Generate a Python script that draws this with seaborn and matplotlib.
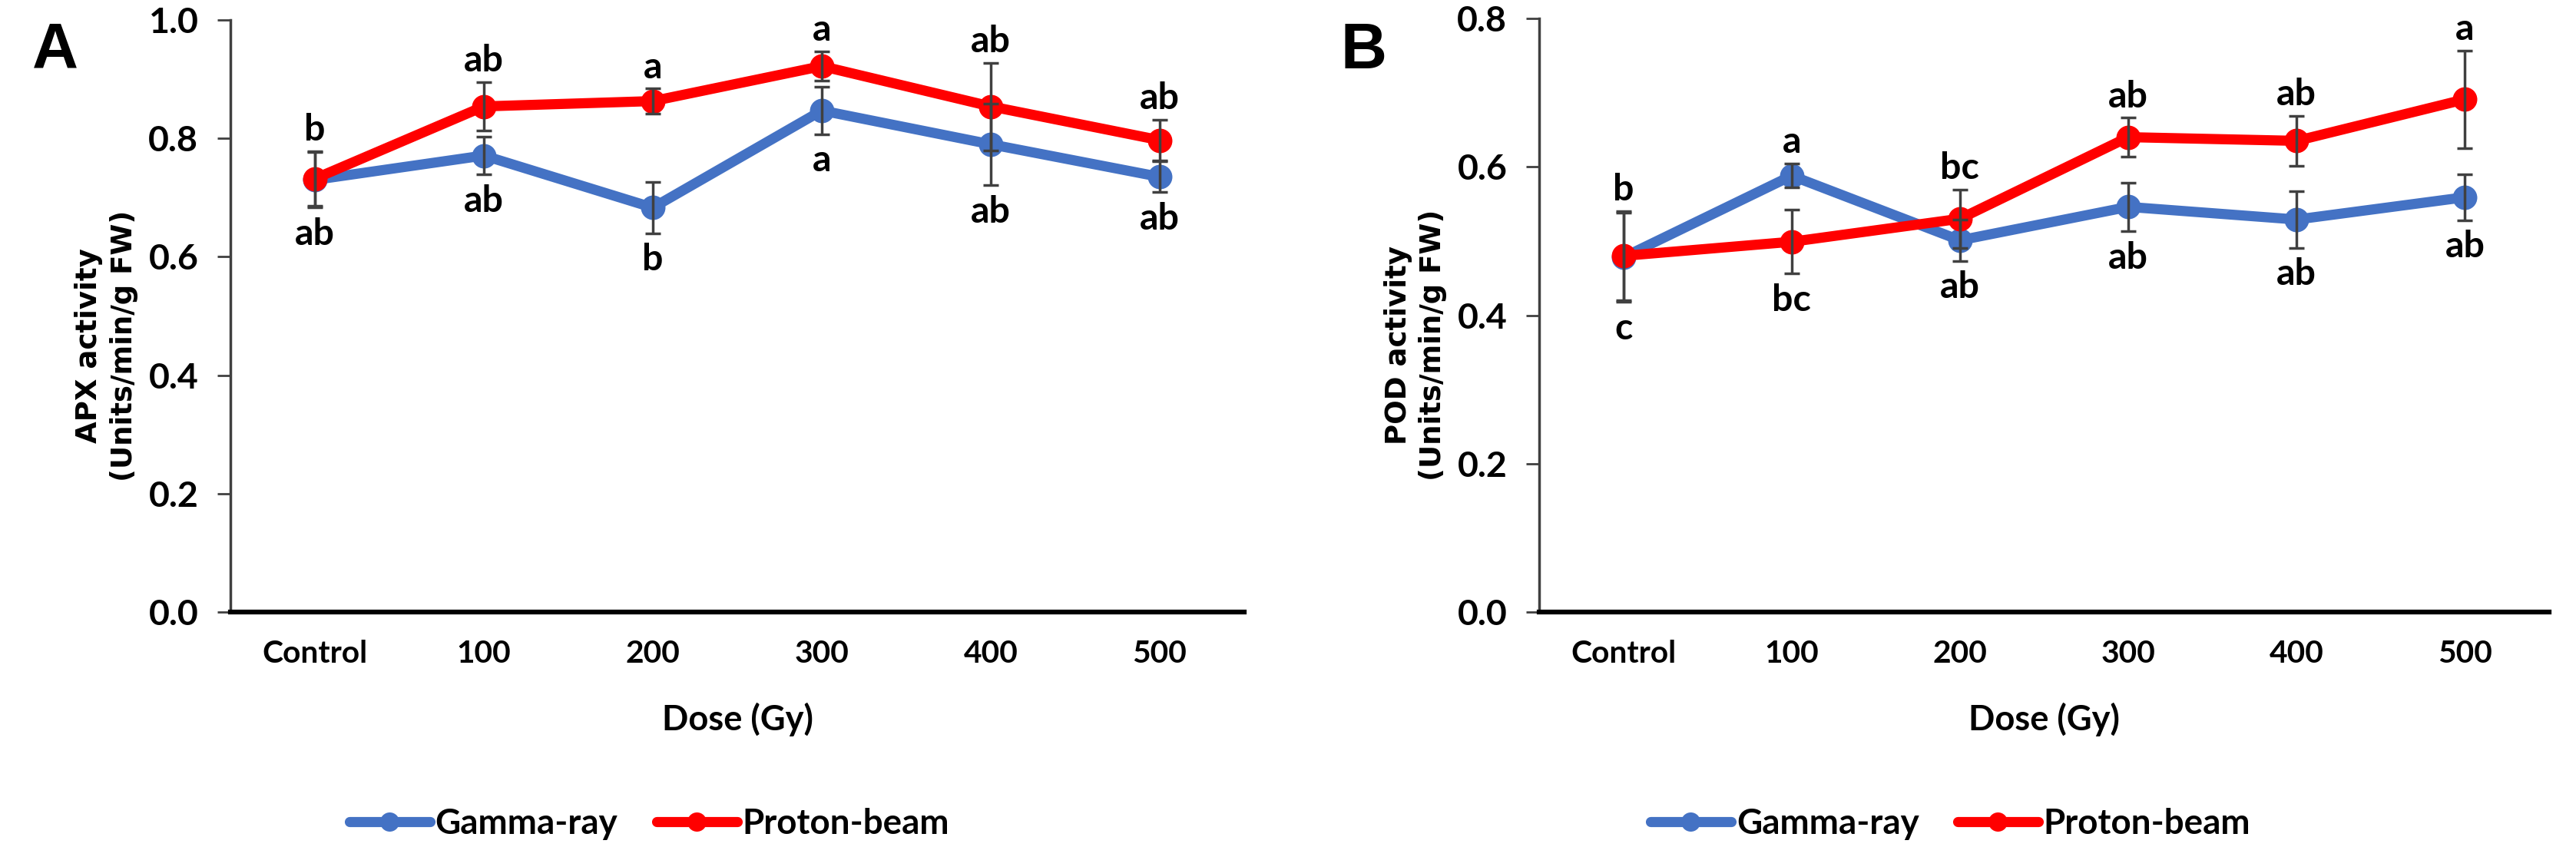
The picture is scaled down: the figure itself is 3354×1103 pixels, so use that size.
import numpy as np
import pandas as pd
import matplotlib
matplotlib.use("Agg")
import matplotlib.pyplot as plt
import seaborn as sns
from matplotlib.lines import Line2D

# ---------------- data ----------------
doses = ["Control", "100", "200", "300", "400", "500"]
series_names = ["Gamma-ray", "Proton-beam"]

apx_gamma = [0.730, 0.771, 0.683, 0.847, 0.790, 0.735]
apx_gamma_err = [0.047, 0.032, 0.043, 0.040, 0.069, 0.026]
apx_proton = [0.732, 0.854, 0.863, 0.922, 0.854, 0.797]
apx_proton_err = [0.046, 0.041, 0.021, 0.025, 0.074, 0.034]
apx_gamma_letters = ["ab", "ab", "b", "a", "ab", "ab"]
apx_proton_letters = ["b", "ab", "a", "a", "ab", "ab"]

pod_gamma = [0.478, 0.588, 0.501, 0.546, 0.529, 0.559]
pod_gamma_err = [0.060, 0.016, 0.028, 0.033, 0.038, 0.031]
pod_proton = [0.480, 0.499, 0.530, 0.640, 0.635, 0.691]
pod_proton_err = [0.060, 0.043, 0.039, 0.026, 0.034, 0.066]
pod_gamma_letters = ["c", "a", "ab", "ab", "ab", "ab"]
pod_proton_letters = ["b", "bc", "bc", "ab", "ab", "a"]

colors = {"Gamma-ray": "#4472C4", "Proton-beam": "#FF0000"}

sns.set_theme(style="white")
MAIN = ["Lato", "DejaVu Sans"]
LABEL = ["DejaVu Sans"]
plt.rcParams["font.family"] = MAIN
plt.rcParams["font.weight"] = "bold"
for k in ["text.color", "axes.labelcolor", "xtick.color", "ytick.color"]:
    plt.rcParams[k] = "black"

fig = plt.figure(figsize=(33.55, 11.03), dpi=100)
renderer = fig.canvas.get_renderer()


def fit_size(text, family, target_px):
    t = fig.text(0, 0, text, fontsize=100, fontweight="bold", family=family)
    w = t.get_window_extent(renderer).width
    t.remove()
    return 100 * target_px / w


FS_XTICK = fit_size("Control", MAIN, 137)
FS_YTICK = fit_size("0.6", MAIN, 65)
FS_LEG = fit_size("Gamma-ray", MAIN, 238)
FS_LET = fit_size("ab", MAIN, 52)
FS_XLAB = fit_size("Dose (Gy)", MAIN, 197)
FS_YLAB = fit_size("APX activity", LABEL, 254)
FS_PANEL = fit_size("A", ["Liberation Sans", "DejaVu Sans"], 60)

axA = fig.add_axes([300 / 3355, 306 / 1103, 1320 / 3355, 771 / 1103])
axB = fig.add_axes([2004 / 3355, 306 / 1103, 1315 / 3355, 773 / 1103])


def draw_panel(ax, g, ge, p, pe, gl, pl, ymax, ylabel, panel_letter, fig_x):
    x = np.arange(len(doses))
    df = pd.DataFrame({
        "pos": np.concatenate([x, x]),
        "value": np.concatenate([g, p]),
        "series": [series_names[0]] * len(doses) + [series_names[1]] * len(doses),
    })
    sns.lineplot(data=df, x="pos", y="value", hue="series", hue_order=series_names,
                 palette=colors, style="series", markers={s: "o" for s in series_names},
                 dashes=False, linewidth=9.5, markersize=23, markeredgewidth=0,
                 errorbar=None, legend=False, ax=ax, zorder=3)
    for vals, errs in [(g, ge), (p, pe)]:
        ax.errorbar(x, vals, yerr=errs, fmt="none", ecolor="#404040",
                    elinewidth=2.5, capsize=7, capthick=2.5, zorder=5)
    # significance letters
    for i in range(len(doses)):
        p_up = p[i] >= g[i]
        for val, err, letter, up in [(p[i], pe[i], pl[i], p_up), (g[i], ge[i], gl[i], not p_up)]:
            if up:
                ax.annotate(letter, (x[i], val + err), xytext=(0, 10), textcoords="offset points",
                            ha="center", va="baseline", fontsize=FS_LET, fontweight="bold",
                            family=MAIN, color="black", zorder=6)
            else:
                ax.annotate(letter, (x[i], val - err), xytext=(0, -9), textcoords="offset points",
                            ha="center", va="top", fontsize=FS_LET, fontweight="bold",
                            family=MAIN, color="black", zorder=6)

    ax.set_xlim(-0.5, len(doses) - 0.5)
    ax.set_ylim(0, ymax)
    ax.set_xticks(x)
    ax.set_xticklabels(doses)
    ticks = np.arange(0, ymax + 0.001, 0.2)
    ax.set_yticks(ticks)
    ax.set_yticklabels([f"{t:.1f}" for t in ticks])
    ax.tick_params(axis="x", length=0, labelsize=FS_XTICK, pad=26)
    ax.tick_params(axis="y", left=True, length=12, width=2, color="#404040",
                   labelsize=FS_YTICK, pad=18, direction="out")
    for lab in ax.get_xticklabels() + ax.get_yticklabels():
        lab.set_fontweight("bold")
    ax.set_xlabel("Dose (Gy)", fontsize=FS_XLAB, fontweight="bold", labelpad=32)
    ax.set_ylabel(ylabel, fontsize=FS_YLAB, fontweight="bold", family=LABEL,
                  linespacing=1.3)
    ax.yaxis.set_label_coords(-0.091, 0.45)
    for side in ["top", "right"]:
        ax.spines[side].set_visible(False)
    ax.spines["left"].set_color("#404040")
    ax.spines["left"].set_linewidth(2.5)
    ax.spines["bottom"].set_color("black")
    ax.spines["bottom"].set_linewidth(4.5)
    ax.grid(False)

    handles = [Line2D([0], [0], color=colors[s], lw=9.5, marker="o", markersize=18,
                      markeredgewidth=0) for s in series_names]
    hl = 105 * 72 / 100 / FS_LEG
    fig.legend(handles, series_names, loc="center", bbox_to_anchor=(fig_x, 0.027),
               ncol=2, frameon=False, prop={"size": FS_LEG, "weight": "bold", "family": MAIN},
               handlelength=hl, handletextpad=0.15, columnspacing=1.1, borderpad=0)
    fig.text(ax.get_position().x0 - 258 / 3355, 0.975, panel_letter, fontsize=FS_PANEL,
             fontweight="bold", family=["Liberation Sans", "DejaVu Sans"],
             ha="left", va="top", color="black")


draw_panel(axA, apx_gamma, apx_gamma_err, apx_proton, apx_proton_err,
           apx_gamma_letters, apx_proton_letters, 1.0,
           "APX activity\n(Units/min/g FW)", "A", 0.252)
draw_panel(axB, pod_gamma, pod_gamma_err, pod_proton, pod_proton_err,
           pod_gamma_letters, pod_proton_letters, 0.8,
           "POD activity\n(Units/min/g FW)", "B", 0.757)

fig.savefig("out.png", dpi=100)
